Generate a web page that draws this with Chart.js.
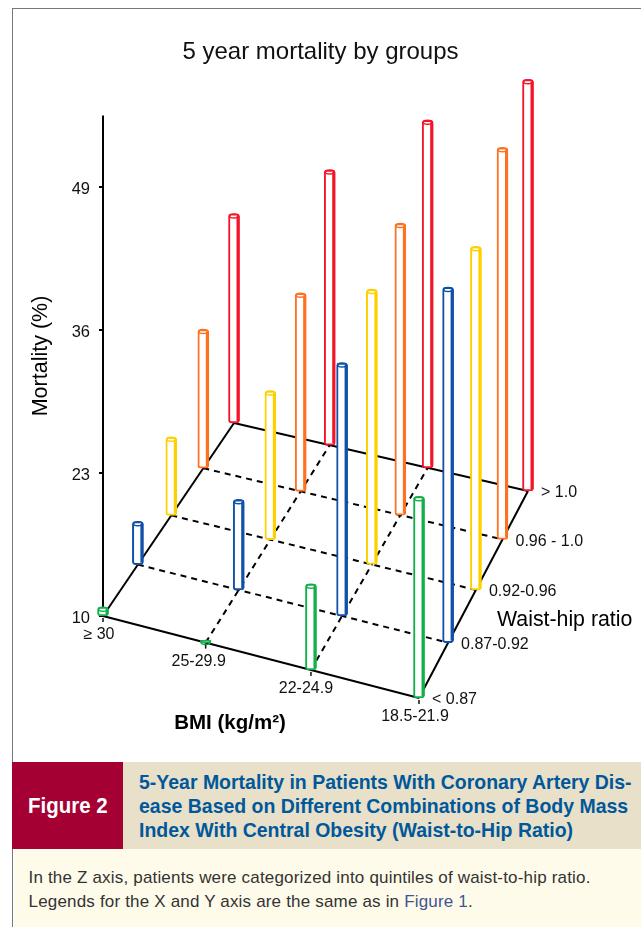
<!DOCTYPE html>
<html>
<head>
<meta charset="utf-8">
<title>5 year mortality by groups</title>
<script src="https://cdn.jsdelivr.net/npm/chart.js@4"></script>
<style>
  html, body { margin: 0; padding: 0; background: #fff; overflow: hidden; }
  body { width: 641px; height: 927px; position: relative; font-family: "Liberation Sans", Arial, sans-serif; }
  #frame { position: absolute; left: 12px; top: 8px; width: 640px; height: 930px; border-left: 1.5px solid #777; border-top: 1.5px solid #777; }
  #chartBox { position: absolute; left: 0; top: 0; width: 641px; height: 760px; }
  #figTag { position: absolute; left: 12px; top: 762px; width: 111px; height: 87px; background: #a50034; color: #fff;
    font: bold 22px/87px "Liberation Sans", sans-serif; text-align: center; }
  #figTag span { display: inline-block; transform: scaleX(0.93); }
  #figHead { position: absolute; left: 123px; top: 762px; width: 518px; height: 87px; background: #e8e0c9; color: #00589b; box-sizing: border-box;
    padding: 8px 0 0 16px; font: bold 20.5px/24px "Liberation Sans", sans-serif; white-space: nowrap; }
  #figHead div { transform: scaleX(0.95); transform-origin: left top; }
  #figNote { position: absolute; left: 13.5px; top: 849px; width: 628px; height: 78px; background: #fffbea; color: #333; box-sizing: border-box;
    padding: 17px 0 0 15px; font: 17px/24px "Liberation Sans", sans-serif; letter-spacing: 0.18px; white-space: nowrap; }
  #figNote span { color: #3f5591; }
</style>
</head>
<body>
<div id="frame"></div>
<div id="chartBox"><canvas id="myChart" width="641" height="760"></canvas></div>
<div id="figTag"><span>Figure 2</span></div>
<div id="figHead"><div>5-Year Mortality in Patients With Coronary Artery Dis-<br>ease Based on Different Combinations of Body Mass<br>Index With Central Obesity (Waist-to-Hip Ratio)</div></div>
<div id="figNote">In the Z axis, patients were categorized into quintiles of waist-to-hip ratio.<br>Legends for the X and Y axis are the same as in <span>Figure 1</span>.</div>
<script>
// categories
const bmiLabels = ['≥ 30', '25-29.9', '22-24.9', '18.5-21.9'];
const whrLabels = ['< 0.87', '0.87-0.92', '0.92-0.96', '0.96 - 1.0', '> 1.0'];
const mortalityTicks = [10, 23, 36, 49];

// 5 year mortality (%), one value per BMI group
const whrBelow087 = [10.8, 10.2, 17.8, 28.3];
const whr087to092 = [13.9, 18.2, 33.0, 42.3];
const whr092to096 = [17.1, 23.5, 35.0, 41.2];
const whr096to100 = [22.6, 28.0, 36.5, 45.6];
const whrAbove100 = [29.0, 35.0, 41.6, 47.4];

const barColors = ['#12b04a', '#0f50a8', '#ffd000', '#ff7020', '#f5152a'];
const rows = [whrBelow087, whr087to092, whr092to096, whr096to100, whrAbove100];

// floor corners of the 3D box, in scale units (x scale, mortality scale)
const floorFrontLeft = { x: 0, y: 10 };
const floorFrontRight = { x: 316, y: 2.55 };
const floorBackRight = { x: 425, y: 21.36 };
const floorBackLeft = { x: 131, y: 27.55 };

// perspective mapping of the floor grid to the chart scales
function floorPoint(bmiIndex, whrIndex) {
  const u = bmiIndex / (bmiLabels.length - 1);
  const v = whrIndex / (whrLabels.length - 1);
  const p0 = floorFrontLeft, p1 = floorFrontRight, p2 = floorBackRight, p3 = floorBackLeft;
  const dx1 = p1.x - p2.x, dx2 = p3.x - p2.x, sx = p0.x - p1.x + p2.x - p3.x;
  const dy1 = p1.y - p2.y, dy2 = p3.y - p2.y, sy = p0.y - p1.y + p2.y - p3.y;
  const den = dx1 * dy2 - dx2 * dy1;
  const g = (sx * dy2 - dx2 * sy) / den;
  const h = (dx1 * sy - sx * dy1) / den;
  const w = g * u + h * v + 1;
  return {
    x: ((p1.x - p0.x + g * p1.x) * u + (p3.x - p0.x + h * p3.x) * v + p0.x) / w,
    y: ((p1.y - p0.y + g * p1.y) * u + (p3.y - p0.y + h * p3.y) * v + p0.y) / w
  };
}

function floorLine(from, to, dashed) {
  return {
    type: 'line',
    data: [floorPoint(from[0], from[1]), floorPoint(to[0], to[1])],
    borderColor: '#000',
    borderWidth: 2,
    borderDash: dashed ? [6, 5] : [],
    pointRadius: 0,
    order: 10,
    clip: false
  };
}

const datasets = [];

// solid box edges and dashed grid
const lastBmi = bmiLabels.length - 1;
const lastWhr = whrLabels.length - 1;
datasets.push(floorLine([0, 0], [lastBmi, 0], false));
datasets.push(floorLine([lastBmi, 0], [lastBmi, lastWhr], false));
datasets.push(floorLine([0, lastWhr], [lastBmi, lastWhr], false));
datasets.push(floorLine([0, 0], [0, lastWhr], false));
for (let j = 1; j < lastWhr; j++) datasets.push(floorLine([0, j], [lastBmi, j], true));
for (let i = 1; i < lastBmi; i++) datasets.push(floorLine([i, 0], [i, lastWhr], true));

// vertical mortality axis line
datasets.push({
  type: 'line',
  data: [{ x: 0, y: 10 }, { x: 0, y: 55.5 }],
  borderColor: '#000',
  borderWidth: 2,
  pointRadius: 0,
  order: 9,
  clip: false
});

// one bar dataset per waist-hip row, the front row drawn last
rows.forEach((values, j) => {
  datasets.push({
    type: 'bar',
    data: values.map((value, i) => {
      const p = floorPoint(i, j);
      return { x: p.x, y: [p.y, p.y + value - 10] };
    }),
    backgroundColor: '#fff',
    borderColor: barColors[j],
    borderWidth: 2,
    borderSkipped: false,
    borderRadius: 3,
    barThickness: 11,
    grouped: false,
    order: j + 1,
    clip: false
  });
});

// thick right wall and top ellipse of the cylinders
const cylinderPlugin = {
  id: 'cylinder',
  afterDatasetDraw(chart, args) {
    const meta = args.meta;
    if (meta.type !== 'bar') return;
    const ctx = chart.ctx;
    const color = meta.controller.getDataset().borderColor;
    ctx.save();
    meta.data.forEach(bar => {
      const { x, y, base, width } = bar.getProps(['x', 'y', 'base', 'width'], true);
      ctx.fillStyle = color;
      if (base - y > 5) ctx.fillRect(x + width / 2 - 3, y + 2, 3, base - y - 4);
      ctx.strokeStyle = color;
      ctx.lineWidth = 1.5;
      ctx.beginPath();
      ctx.ellipse(x, y + 2, width / 2 - 1, 2, 0, 0, Math.PI * 2);
      ctx.stroke();
    });
    ctx.restore();
  }
};

// category labels sit next to the floor points, axis names are placed by hand
const labelPlugin = {
  id: 'floorLabels',
  afterDraw(chart) {
    const ctx = chart.ctx;
    const xs = chart.scales.x, ys = chart.scales.y;
    ctx.save();
    ctx.fillStyle = '#111';
    ctx.font = '16px "Liberation Sans"';
    ctx.textBaseline = 'middle';
    ctx.textAlign = 'center';
    const bmiShift = [-4, -7, -5, -4];
    bmiLabels.forEach((label, i) => {
      const p = floorPoint(i, 0);
      const px = xs.getPixelForValue(p.x), py = ys.getPixelForValue(p.y);
      ctx.fillText(label, px + bmiShift[i], py + 19);
      ctx.fillRect(px - 0.75, py + 2, 1.5, 4);
    });
    ctx.textAlign = 'left';
    whrLabels.forEach((label, j) => {
      const p = floorPoint(lastBmi, j);
      ctx.fillText(label, xs.getPixelForValue(p.x) + 13, ys.getPixelForValue(p.y) + 2);
    });
    ctx.fillStyle = '#000';
    ctx.font = '21.3px "Liberation Sans"';
    ctx.fillText('Waist-hip ratio', 497, 620);
    ctx.textAlign = 'center';
    ctx.font = 'bold 20.5px "Liberation Sans"';
    ctx.fillText('BMI (kg/m²)', 230, 723);
    ctx.font = '21.5px "Liberation Sans"';
    ctx.translate(41, 356);
    ctx.rotate(-Math.PI / 2);
    ctx.fillText('Mortality (%)', 0, 0);
    ctx.restore();
  }
};

const ctx = document.getElementById('myChart').getContext('2d');
const myChart = new Chart(ctx, {
  type: 'bar',
  data: { datasets },
  plugins: [cylinderPlugin, labelPlugin],
  options: {
    responsive: false,
    animation: false,
    layout: { padding: { bottom: 34 } },
    plugins: {
      legend: { display: false },
      tooltip: { enabled: false },
      title: {
        display: true,
        text: '5 year mortality by groups',
        color: '#111',
        font: { family: '"Liberation Sans"', size: 24, weight: 'normal' },
        padding: { top: 37.5, bottom: 43.7 }
      }
    },
    scales: {
      x: { type: 'linear', display: false, min: 0, max: 538, offset: false },
      y: {
        min: 0,
        max: 56,
        afterBuildTicks(axis) { axis.ticks = mortalityTicks.map(value => ({ value })); },
        afterFit(axis) { axis.width = 103; },
        border: { display: false },
        grid: { drawOnChartArea: false, color: '#000', tickLength: 4, lineWidth: 2 },
        ticks: { color: '#111', padding: 9, labelOffset: 2, autoSkip: false, font: { family: '"Liberation Sans"', size: 16.5 } }
      }
    }
  }
});
</script>
</body>
</html>
